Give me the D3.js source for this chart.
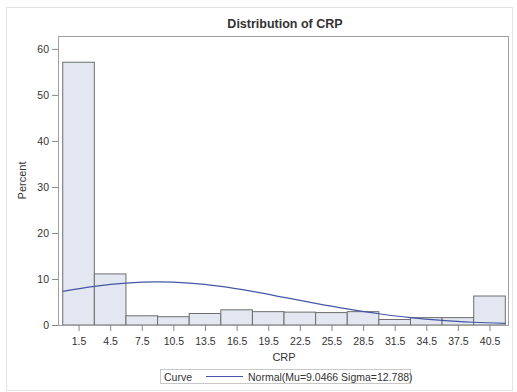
<!DOCTYPE html>
<html>
<head>
<meta charset="utf-8">
<script src="https://cdn.jsdelivr.net/npm/d3@7"></script>
<style>
  body { margin: 0; background: #fff; }
  text { font-family: "Liberation Sans", Arial, sans-serif; fill: #333; }
</style>
</head>
<body>
<div id="chart"></div>
<script>
// histogram bins (CRP, width 3) and percent per bin
var binStarts = [0, 3, 6, 9, 12, 15, 18, 21, 24, 27, 30, 33, 36, 39];
var binWidth = 3;
var percents = [57.1, 11.1, 2.0, 1.8, 2.5, 3.3, 2.9, 2.8, 2.7, 2.9, 1.2, 1.6, 1.6, 6.3];
var tickMids = [1.5, 4.5, 7.5, 10.5, 13.5, 16.5, 19.5, 22.5, 25.5, 28.5, 31.5, 34.5, 37.5, 40.5];
var yTicks = [0, 10, 20, 30, 40, 50, 60];

// normal curve
var curveX = [0, 3, 6, 9, 12, 15, 18, 21, 24, 27, 30, 33, 36, 39, 42];
var curveY = [7.3, 8.4, 9.1, 9.35, 9.1, 8.4, 7.3, 6.0, 4.7, 3.5, 2.45, 1.6, 1.0, 0.6, 0.35];

var width = 517, height = 392;
var margin = {top: 36, right: 8, bottom: 67, left: 58};

var svg = d3.select("#chart").append("svg")
    .attr("width", width)
    .attr("height", height);

// outer light border
svg.append("rect")
    .attr("x", 6.5).attr("y", 7.5)
    .attr("width", 506).attr("height", 383)
    .attr("fill", "none")
    .attr("stroke", "#e3e3e3");

var x = d3.scaleLinear()
    .domain([-0.45, 42.35])
    .range([margin.left, width - margin.right]);

var y = d3.scaleLinear()
    .domain([0, 62.8])
    .range([height - margin.bottom, margin.top]);

// bars
svg.append("g")
  .selectAll("rect")
  .data(percents)
  .enter().append("rect")
    .attr("x", function(d, i) { return x(binStarts[i]); })
    .attr("y", function(d) { return y(d); })
    .attr("width", function(d, i) { return x(binStarts[i] + binWidth) - x(binStarts[i]); })
    .attr("height", function(d) { return y(0) - y(d); })
    .attr("fill", "#e2e7f1")
    .attr("stroke", "#6e6e6e")
    .attr("stroke-width", 1);

// normal curve
var pts = curveX.map(function(d, i) { return [d, curveY[i]]; });
svg.append("path")
    .datum(pts)
    .attr("fill", "none")
    .attr("stroke", "#4456a6")
    .attr("stroke-width", 1.2)
    .attr("d", d3.line()
      .x(function(d) { return x(d[0]); })
      .y(function(d) { return y(d[1]); })
      .curve(d3.curveMonotoneX));

// frame
svg.append("rect")
    .attr("x", margin.left + 0.5)
    .attr("y", margin.top + 0.5)
    .attr("width", width - margin.right - margin.left - 1)
    .attr("height", height - margin.bottom - margin.top)
    .attr("fill", "none")
    .attr("stroke", "#a0a0a0");

// axes
var xAxis = svg.append("g")
    .attr("transform", "translate(0," + (height - margin.bottom) + ")")
    .call(d3.axisBottom(x).tickValues(tickMids).tickSize(6).tickSizeOuter(0).tickFormat(d3.format(".1f")));
xAxis.select(".domain").remove();
xAxis.selectAll("line").attr("stroke", "#888");
xAxis.selectAll("text").attr("font-size", "10.5px").attr("fill", "#333").attr("dy", "1.05em");

var yAxis = svg.append("g")
    .attr("transform", "translate(" + margin.left + ",0)")
    .call(d3.axisLeft(y).tickValues(yTicks).tickSize(6).tickSizeOuter(0));
yAxis.select(".domain").remove();
yAxis.selectAll("line").attr("stroke", "#888");
yAxis.selectAll("text").attr("font-size", "10.5px").attr("fill", "#333").attr("x", -9);

// titles
svg.append("text")
    .attr("x", 285).attr("y", 28)
    .attr("text-anchor", "middle")
    .attr("font-size", "12.5px")
    .attr("font-weight", "bold")
    .attr("fill", "#222")
    .text("Distribution of CRP");

svg.append("text")
    .attr("x", x(21)).attr("y", 361)
    .attr("text-anchor", "middle")
    .attr("font-size", "11px")
    .text("CRP");

svg.append("text")
    .attr("transform", "translate(26," + y(31.4) + ") rotate(-90)")
    .attr("text-anchor", "middle")
    .attr("font-size", "11px")
    .text("Percent");

// legend
var lg = svg.append("g");
lg.append("rect")
    .attr("x", 160.5).attr("y", 369.5)
    .attr("width", 250).attr("height", 14)
    .attr("fill", "#fff")
    .attr("stroke", "#c8c8c8");
lg.append("text")
    .attr("x", 164).attr("y", 380.5)
    .attr("font-size", "10.5px")
    .text("Curve");
lg.append("line")
    .attr("x1", 206).attr("x2", 243)
    .attr("y1", 376.5).attr("y2", 376.5)
    .attr("stroke", "#4456a6")
    .attr("stroke-width", 1.2);
lg.append("text")
    .attr("x", 248).attr("y", 380.5)
    .attr("font-size", "10.5px")
    .text("Normal(Mu=9.0466 Sigma=12.788)");
</script>
</body>
</html>
